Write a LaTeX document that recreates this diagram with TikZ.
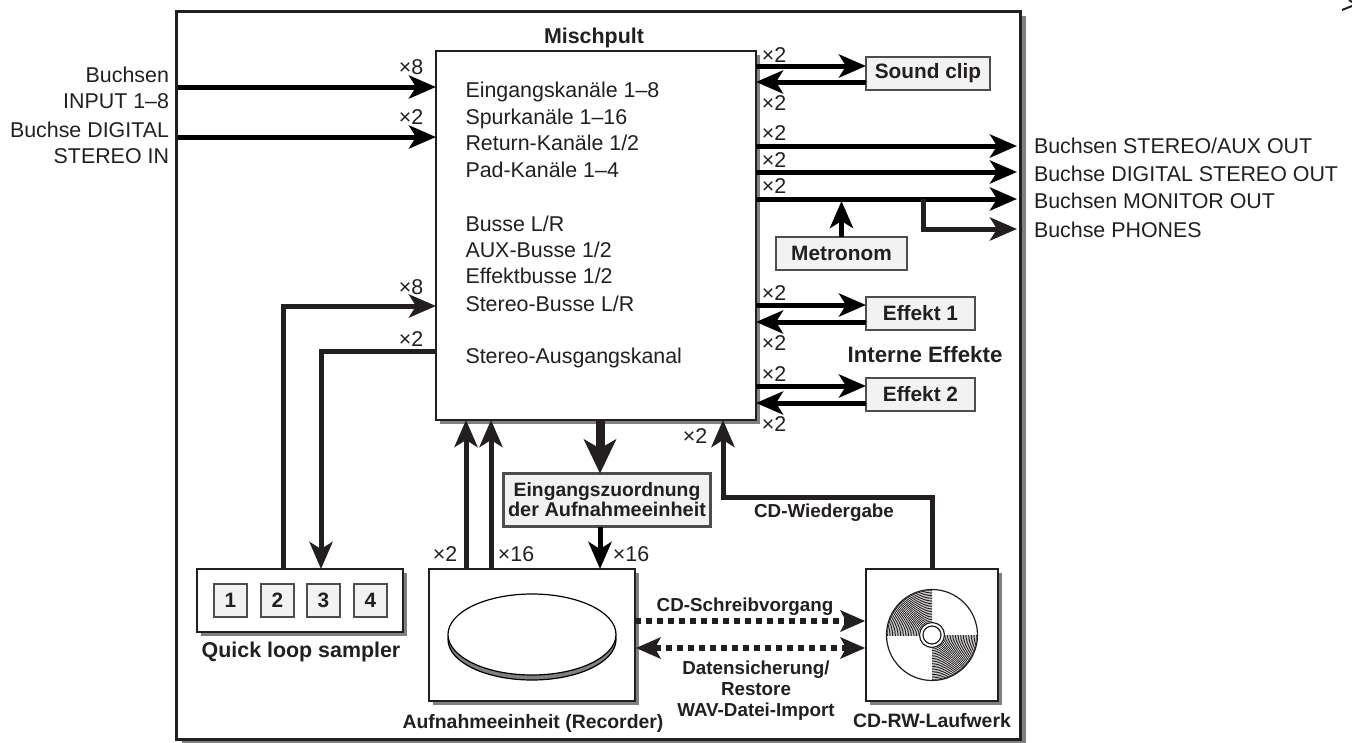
\documentclass[tikz,border=0pt]{standalone}
\usepackage{fontspec}
\setmainfont{Liberation Sans}
\usetikzlibrary{arrows.meta,shadows,calc}
\definecolor{ink}{HTML}{231F20}
\definecolor{shade}{HTML}{808080}
\definecolor{pale}{HTML}{F2F2F2}
\tikzset{
  x=1pt,y=-1pt,
  txt/.style={inner sep=0,outer sep=0,text=ink,font=\fontsize{21.4}{24}\selectfont,align=center},
  txtl/.style={txt,anchor=base west},
  txtr/.style={txt,anchor=base east,align=right},
  bold/.style={txt,anchor=base,font=\fontsize{21.4}{24}\selectfont\bfseries},
  smallbold/.style={txt,anchor=base,font=\fontsize{18.8}{21}\selectfont\bfseries},
  midbold/.style={txt,anchor=base,font=\fontsize{19.4}{21}\selectfont\bfseries},
  box/.style={draw=ink,fill=white,inner sep=0,outer sep=0,line width=2pt,anchor=north west},
  shbox/.style={box,drop shadow={shadow xshift=4pt,shadow yshift=-4pt,fill=shade,opacity=1}},
  palebox/.style={draw=ink!80,fill=pale,inner sep=0,outer sep=0,line width=1.6pt,anchor=north west,text=ink,font=\fontsize{20.8}{20}\selectfont\bfseries,align=center},
  arr/.style={line width=5pt,draw=black,-{Stealth[length=27pt,width=23pt,inset=7pt]}},
  arrd/.style={line width=5pt,draw=ink,-{Stealth[length=27pt,width=23pt,inset=7pt]}},
  dotline/.style={line width=6pt,draw=ink,dash pattern=on 6pt off 5pt},
}
\begin{document}
\begin{tikzpicture}
\useasboundingbox (0,0) rectangle (1352,742);
% frame
\node[box,line width=3pt,minimum width=844pt,minimum height=728pt,drop shadow={shadow xshift=5pt,shadow yshift=-5pt,fill=shade,opacity=1}] (frame) at (176.5,11) {};
% main boxes
\node[shbox,minimum width=320pt,minimum height=369pt] (mix) at (436,51) {};
\node[bold] (mixt) at (594,43) {Mischpult};
\foreach \yy/\t in {97/{Eingangskanäle 1--8},124/{Spurkanäle 1--16},150/{Return-Kanäle 1/2},177/{Pad-Kanäle 1--4},231/{Busse L/R},257/{AUX-Busse 1/2},283/{Effektbusse 1/2},311/{Stereo-Busse L/R},363.5/{Stereo-Ausgangskanal}}
  \node[txtl] at (465.5,\yy) {\t};
\node[shbox,minimum width=206pt,minimum height=63pt] (quick) at (197,569) {};
\foreach \n/\xx in {1/214,2/261,3/307,4/354}
  \node[palebox,minimum width=33pt,minimum height=33pt] (q\n) at (\xx,584) {\n};
\node[shbox,minimum width=206pt,minimum height=132pt] (rec) at (429,569) {};
\node[shbox,minimum width=132pt,minimum height=132pt] (cd) at (866,569) {};
% recorder disc
\draw[line width=1.2pt,draw=black,fill=shade] (532,639.5) ellipse [x radius=84pt,y radius=40.5pt];
\draw[line width=1.2pt,draw=black,fill=white] (532,634.5) ellipse [x radius=84pt,y radius=40.5pt];
% CD
\begin{scope}
  \clip (932,635) rectangle (880,580);
  \foreach \r in {14,15.6,...,45} \draw[line width=0.8pt,ink] (932,635) circle [radius=\r pt];
\end{scope}
\begin{scope}
  \clip (932,635) rectangle (985,690);
  \foreach \r in {14,15.6,...,45} \draw[line width=0.8pt,ink] (932,635) circle [radius=\r pt];
\end{scope}
\draw[line width=1.2pt,ink] (932,635) circle [radius=45.5pt];
\draw[line width=1.2pt,ink,fill=white] (932,635) circle [radius=12.5pt];
\draw[line width=1.2pt,ink,fill=white] (932,635) circle [radius=9pt];
% side boxes
\node[palebox,minimum width=124pt,minimum height=33pt] (sound) at (866,57) {Sound clip};
\node[palebox,minimum width=131pt,minimum height=33pt] (metro) at (776,237) {Metronom};
\node[palebox,minimum width=109pt,minimum height=33pt] (eff1) at (866,297) {Effekt 1};
\node[palebox,minimum width=109pt,minimum height=33pt] (eff2) at (866,378) {Effekt 2};
\node[palebox,line width=2.6pt,minimum width=207pt,minimum height=53pt,font=\fontsize{19.3}{20}\selectfont\bfseries] (assign) at (503.5,473.5) {Eingangszuordnung\\{\fontsize{19.9}{20}\selectfont der Aufnahmeeinheit}};
% left inputs
\coordinate (in1) at (178,87);
\coordinate (in2) at (178,137);
\draw[arr] (in1) -- (in1 -| mix.west);
\draw[arr] (in2) -- (in2 -| mix.west);
\node[txtr] at (169,82) {Buchsen};
\node[txtr] at (169,108) {INPUT 1--8};
\node[txtr] at (169,137) {Buchse DIGITAL};
\node[txtr] at (169,163) {STEREO IN};
% sampler loop
\coordinate (qa) at (283,306);
\coordinate (qb) at (321,351);
\draw[arrd] (qa |- quick.north) -- (qa) -- (qa -| mix.west);
\draw[arrd] (qb -| mix.west) -- (qb) -- (qb |- quick.north);
% recorder up
\coordinate (ua) at (466,500);
\coordinate (ub) at (491,500);
\draw[arrd] (ua |- rec.north) -- (ua |- mix.south);
\draw[arrd] (ub |- rec.north) -- (ub |- mix.south);
% central
\coordinate (cc) at (600,450);
\draw[line width=9pt,draw=ink,-{Stealth[length=34pt,width=32pt,inset=9pt]}] (cc |- mix.south) -- (cc |- assign.north);
\draw[arr] (cc |- assign.south) -- (cc |- rec.north);
% CD return
\coordinate (cra) at (723,497);
\draw[arrd] (cd.north) -- (cd.north |- cra) -- (cra) -- (cra |- mix.south);
% sound clip
\coordinate (s1) at (800,66);
\coordinate (s2) at (800,82);
\draw[arr] (s1 -| mix.east) -- (s1 -| sound.west);
\draw[arr] (s2 -| sound.west) -- (s2 -| mix.east);
% outputs
\coordinate (o1) at (1017,146);
\coordinate (o2) at (1017,172);
\coordinate (o3) at (1017,199);
\coordinate (o4) at (1017,229);
\coordinate (ob) at (923,199);
\draw[arr] (o1 -| mix.east) -- (o1);
\draw[arr] (o2 -| mix.east) -- (o2);
\draw[arr] (o3 -| mix.east) -- (o3);
\draw[arrd] (ob) -- (ob |- o4) -- (o4);
\draw[arr] (metro.north) -- ($(metro.north |- o3)+(0,2)$);
\node[txtl] at (1034,153) {Buchsen STEREO/AUX OUT};
\node[txtl] at (1034,181) {Buchse DIGITAL STEREO OUT};
\node[txtl] at (1034,208) {Buchsen MONITOR OUT};
\node[txtl] at (1034,237) {Buchse PHONES};
% effects
\coordinate (e1) at (800,305);
\coordinate (e2) at (800,322);
\coordinate (e3) at (800,386);
\coordinate (e4) at (800,403);
\draw[arr] (e1 -| mix.east) -- (e1 -| eff1.west);
\draw[arr] (e2 -| eff1.west) -- (e2 -| mix.east);
\draw[arr] (e3 -| mix.east) -- (e3 -| eff2.west);
\draw[arr] (e4 -| eff2.west) -- (e4 -| mix.east);
\node[bold,font=\fontsize{22.3}{24}\selectfont\bfseries] at (925,362) {Interne Effekte};
% dotted
\coordinate (d1) at (700,621);
\coordinate (d2) at (700,648);
\draw[dotline] (d1 -| rec.east) -- ($(d1 -| cd.west)+(-20,0)$);
\fill[ink] (d1 -| cd.west) ++(-1,0) -- ++(-25,-11) -- ++(6,11) -- ++(-6,11) -- cycle;
\draw[dotline] ($(d2 -| rec.east)+(20,0)$) -- ($(d2 -| cd.west)+(-20,0)$);
\fill[ink] (d2 -| cd.west) ++(-1,0) -- ++(-25,-11) -- ++(6,11) -- ++(-6,11) -- cycle;
\fill[ink] (d2 -| rec.east) ++(1,0) -- ++(25,-11) -- ++(-6,11) -- ++(6,11) -- cycle;
% multiplicities
\foreach \xx/\yy/\t in {411/67/8,411/117/2,411/287/8,411/339/2,774/55/2,774/103/2,774/133/2,774/160/2,774/186/2,774/293/2,774/343/2,774/374/2,774/424/2,695/436/2,445/554/2,516/554/16,631/554/16}
  \node[txt,anchor=center] at (\xx,\yy) {×\t};
% captions
\node[bold] at (301,657) {Quick loop sampler};
\node[midbold] at (533,728) {Aufnahmeeinheit (Recorder)};
\node[midbold] at (932,727) {CD-RW-Laufwerk};
\node[smallbold] at (824,517) {CD-Wiedergabe};
\node[smallbold] at (745,611) {CD-Schreibvorgang};
\node[smallbold] at (756,674) {Datensicherung/};
\node[smallbold] at (756,695) {Restore};
\node[smallbold] at (756,716) {WAV-Datei-Import};
% corner fragment
\draw[line width=2pt,ink] (1342,10) -- (1352,6);
\draw[line width=2pt,ink] (1349,0) -- (1352,2);
\end{tikzpicture}
\end{document}
